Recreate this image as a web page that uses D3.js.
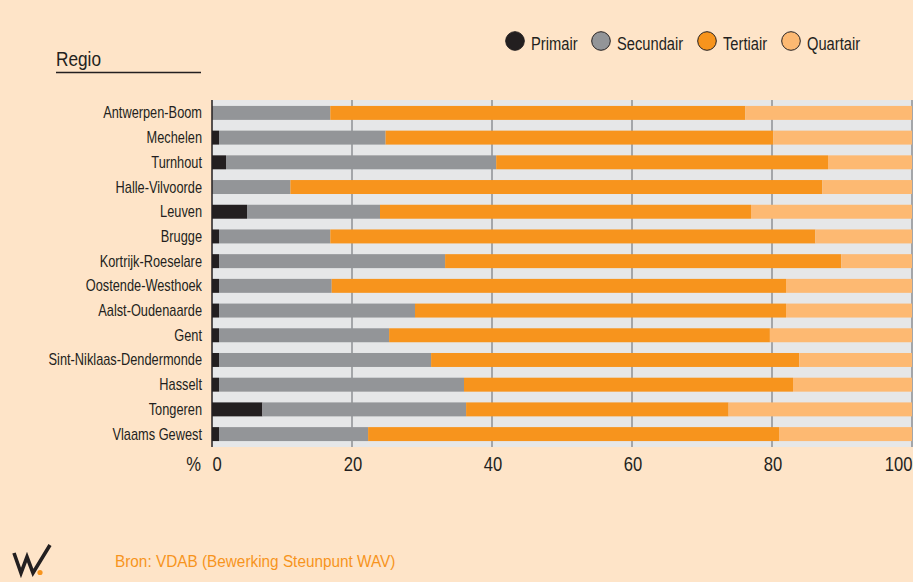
<!DOCTYPE html>
<html>
<head>
<meta charset="utf-8">
<script src="https://cdn.jsdelivr.net/npm/d3@7"></script>
<style>
  body { margin: 0; background: #fee4c8; }
  svg { display: block; }
  text { font-family: "Liberation Sans", Arial, sans-serif; fill: #231f20; }
</style>
</head>
<body>
<svg id="chart" width="913" height="582"></svg>
<script>
const regions = ["Antwerpen-Boom", "Mechelen", "Turnhout", "Halle-Vilvoorde", "Leuven", "Brugge",
  "Kortrijk-Roeselare", "Oostende-Westhoek", "Aalst-Oudenaarde", "Gent",
  "Sint-Niklaas-Dendermonde", "Hasselt", "Tongeren", "Vlaams Gewest"];

const primair   = [0, 1.0, 2.0, 0, 5.0, 1.0, 1.0, 1.0, 1.0, 1.0, 1.0, 1.0, 7.2, 1.0];
const secundair = [16.9, 23.8, 38.6, 11.2, 19.0, 15.9, 32.3, 16.1, 28.0, 24.3, 30.3, 35.0, 29.1, 21.3];
const tertiair  = [59.3, 55.4, 47.4, 76.0, 53.0, 69.3, 56.6, 64.9, 53.0, 54.4, 52.6, 47.0, 37.5, 58.7];
const quartair  = [23.8, 19.8, 12.0, 12.8, 23.0, 13.8, 10.1, 18.0, 18.0, 20.3, 16.1, 17.0, 26.2, 19.0];

const sectors = ["Primair", "Secundair", "Tertiair", "Quartair"];
const colors = ["#231f20", "#939598", "#f7941d", "#fdb972"];
const xTicks = [0, 20, 40, 60, 80, 100];

const svg = d3.select("#chart");

// rows for the stack
const rows = regions.map((r, i) => ({
  regio: r,
  Primair: primair[i],
  Secundair: secundair[i],
  Tertiair: tertiair[i],
  Quartair: quartair[i]
}));

const x = d3.scaleLinear().domain([0, 100]).range([212, 912]);
const y = d3.scaleBand().domain(regions).range([100, 447])
  .paddingInner(0.435).paddingOuter(0.24);
const color = d3.scaleOrdinal().domain(sectors).range(colors);

// condensed text helper
function label(g, str, tx, ty, size, anchor, sx) {
  return g.append("text")
    .attr("transform", `translate(${tx},${ty}) scale(${sx},1)`)
    .attr("text-anchor", anchor)
    .attr("font-size", size)
    .text(str);
}

// plot background
svg.append("rect")
  .attr("x", x(0)).attr("y", 100)
  .attr("width", x(100) - x(0)).attr("height", 347)
  .attr("fill", "#e6e7e8");

// gridlines
svg.append("g")
  .selectAll("line")
  .data(xTicks.slice(1))
  .enter()
  .append("line")
  .attr("x1", d => x(d)).attr("x2", d => x(d))
  .attr("y1", 100).attr("y2", 447)
  .attr("stroke", "#a4a6a9")
  .attr("stroke-width", 2);

// bars
const stack = d3.stack().keys(sectors)(rows);
svg.append("g")
  .selectAll("g")
  .data(stack)
  .enter()
  .append("g")
  .attr("fill", d => color(d.key))
  .selectAll("rect")
  .data(d => d)
  .enter()
  .append("rect")
  .attr("x", d => x(d[0]))
  .attr("y", d => y(d.data.regio))
  .attr("width", d => x(d[1]) - x(d[0]))
  .attr("height", y.bandwidth());

// left axis line
svg.append("line")
  .attr("x1", x(0)).attr("x2", x(0))
  .attr("y1", 100).attr("y2", 447)
  .attr("stroke", "#231f20")
  .attr("stroke-width", 1.5);

// category labels
const cats = svg.append("g");
regions.forEach(r => {
  label(cats, r, 202, y(r) + y.bandwidth() / 2 + 5.5, 16, "end", 0.8);
});

// x tick labels
const ticks = svg.append("g");
xTicks.forEach(t => {
  if (t === 0) label(ticks, "0", x(0) + 0.5, 471, 20, "start", 0.83);
  else if (t === 100) label(ticks, "100", 912.5, 471, 20, "end", 0.83);
  else label(ticks, String(t), x(t) + 1, 471, 20, "middle", 0.83);
});
label(ticks, "%", 201, 471, 20, "end", 0.83);

// title
label(svg, "Regio", 56, 66, 21, "start", 0.82);
svg.append("line")
  .attr("x1", 56).attr("x2", 201)
  .attr("y1", 72.5).attr("y2", 72.5)
  .attr("stroke", "#231f20")
  .attr("stroke-width", 1.5);

// legend
const legendX = [515, 601, 707, 791];
const legend = svg.append("g");
sectors.forEach((s, i) => {
  legend.append("circle")
    .attr("cx", legendX[i]).attr("cy", 41)
    .attr("r", 9.3)
    .attr("fill", color(s))
    .attr("stroke", "#231f20")
    .attr("stroke-width", 1);
  label(legend, s, legendX[i] + 16, 49.5, 17.5, "start", 0.84);
});

// source
svg.append("text")
  .attr("transform", "translate(115,567) scale(0.93,1)")
  .attr("font-size", 16.5)
  .style("fill", "#f7941d")
  .text("Bron: VDAB (Bewerking Steunpunt WAV)");

// logo
const logo = svg.append("g");
logo.append("path")
  .attr("d", "M14,553 L21,573 L27,557 L33,573 L50,545")
  .attr("fill", "none")
  .attr("stroke", "#231f20")
  .attr("stroke-width", 3.6)
  .attr("stroke-linejoin", "miter");
logo.append("circle")
  .attr("cx", 40).attr("cy", 572.5).attr("r", 2.6)
  .attr("fill", "#f7941d");
</script>
</body>
</html>
